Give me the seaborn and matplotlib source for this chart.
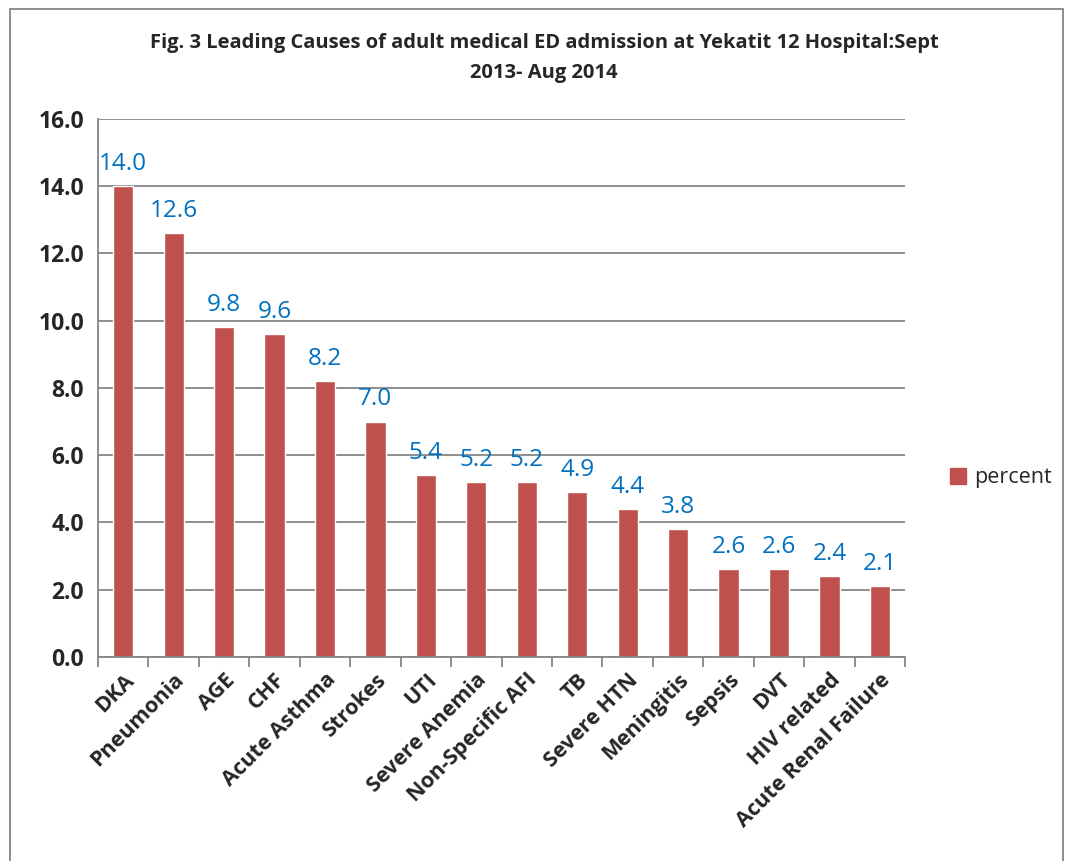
import numpy as np
import pandas as pd
import matplotlib
matplotlib.use("Agg")
import matplotlib.pyplot as plt
from matplotlib.patches import Rectangle
from matplotlib.ticker import FixedLocator, FormatStrFormatter
import seaborn as sns

# data
causes = ["DKA", "Pneumonia", "AGE", "CHF", "Acute Asthma", "Strokes", "UTI",
          "Severe Anemia", "Non-Specific AFI", "TB", "Severe HTN", "Meningitis",
          "Sepsis", "DVT", "HIV related", "Acute Renal Failure"]
percent = [14.0, 12.6, 9.8, 9.6, 8.2, 7.0, 5.4, 5.2, 5.2, 4.9, 4.4, 3.8,
           2.6, 2.6, 2.4, 2.1]

df = pd.DataFrame({"cause": causes, "percent": percent})

sns.set_theme(style="white")
plt.rcParams['font.family'] = ['Open Sans', 'DejaVu Sans']

bar_color = "#C0504D"
grid_color = "#868686"

fig = plt.figure(figsize=(10.67, 8.61), dpi=100)
ax = fig.add_axes([0.0918, 0.237, 0.7565, 0.625])

sns.barplot(data=df, x="cause", y="percent", color=bar_color, width=0.4,
            saturation=1, ax=ax)

ax.set_ylim(0, 16)
ax.set_xlim(-0.5, len(causes) - 0.5)
ax.set_yticks(np.arange(0, 16.1, 2))
ax.yaxis.set_major_formatter(FormatStrFormatter('%.1f'))
ax.yaxis.grid(True, color=grid_color, linewidth=1.3)
ax.set_axisbelow(True)
ax.set_xlabel("")
ax.set_ylabel("")

for s in ["top", "right"]:
    ax.spines[s].set_visible(False)
for s in ["left", "bottom"]:
    ax.spines[s].set_color(grid_color)
    ax.spines[s].set_linewidth(1.3)

ax.tick_params(axis="y", length=0, pad=10, labelsize=16.5)
ax.tick_params(axis="x", which="major", length=0, pad=9)
ax.xaxis.set_minor_locator(FixedLocator(np.arange(-0.5, len(causes), 1)))
ax.tick_params(axis="x", which="minor", bottom=True, length=7, width=1.3,
               color=grid_color, direction="out")
for lbl in ax.get_yticklabels():
    lbl.set_fontweight("bold")
ax.set_xticks(range(len(causes)))
ax.set_xticklabels(causes, rotation=45, ha="right", rotation_mode="anchor",
                   fontsize=15.5, fontweight="bold")

# value labels
for i, v in enumerate(percent):
    ax.text(i, v + 0.3, f"{v:.1f}", ha="center", va="bottom",
            color="#0070C0", fontsize=17.5)

title_font = ['Liberation Sans Narrow', 'Open Sans', 'DejaVu Sans']
fig.text(0.51, 0.950, "Fig. 3 Leading Causes of adult medical ED admission at Yekatit 12 Hospital:Sept",
         ha="center", va="center", fontsize=14.5, fontweight="bold",
         family=title_font)
fig.text(0.51, 0.915, "2013- Aug 2014",
         ha="center", va="center", fontsize=14.5, fontweight="bold",
         family=title_font)

handle = Rectangle((0, 0), 1, 1, color=bar_color)
fig.legend([handle], ["percent"], loc="center left",
           bbox_to_anchor=(0.872, 0.445), frameon=False, fontsize=15.5,
           handlelength=0.75, handleheight=0.75, handletextpad=0.4)

# outer chart border
fig.add_artist(Rectangle((0.0095, -0.01), 0.987, 1.0, transform=fig.transFigure,
                         fill=False, edgecolor=grid_color, linewidth=1.3))

fig.savefig("out.png", dpi=100)
